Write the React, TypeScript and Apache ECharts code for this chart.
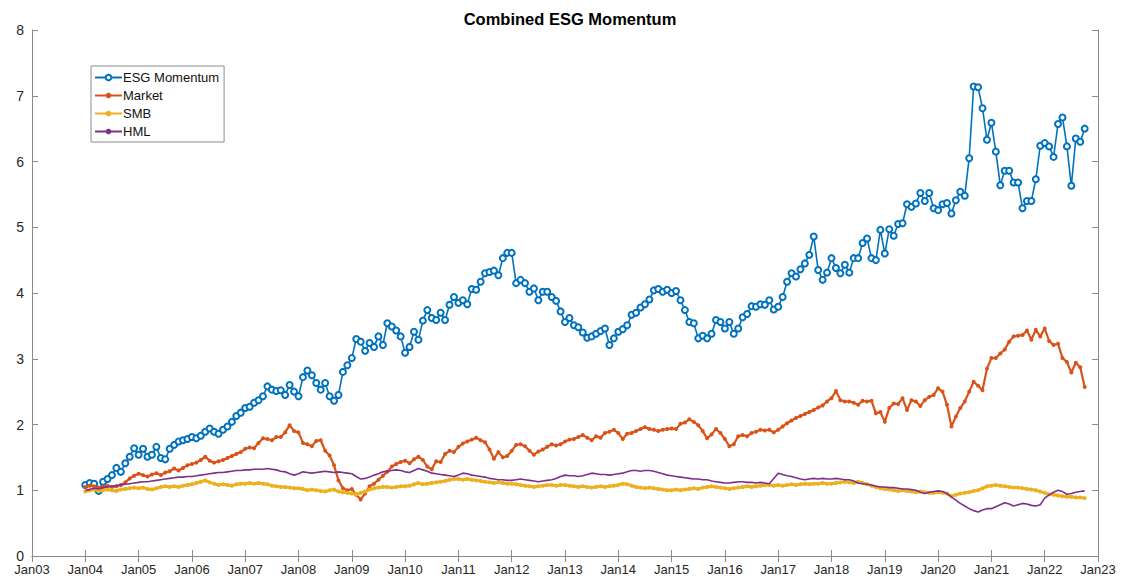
import React, { useEffect, useRef } from "react";
import * as echarts from "echarts";

// Monthly observations, Jan 2004 .. Oct 2022
const START_YEAR = 2004;
const X_MIN = 2003;
const X_MAX = 2023;
const Y_MIN = 0;
const Y_MAX = 8;

const seriesNames = ["ESG Momentum", "Market", "SMB", "HML"];

const esgMomentum = [
  1.08, 1.11, 1.10, 0.99, 1.13, 1.17, 1.23, 1.34, 1.28, 1.41, 1.51, 1.64,
  1.54, 1.63, 1.51, 1.54, 1.66, 1.49, 1.47, 1.63, 1.69, 1.74, 1.76, 1.78,
  1.81, 1.79, 1.83, 1.89, 1.94, 1.89, 1.86, 1.92, 1.97, 2.04, 2.13, 2.18,
  2.25, 2.27, 2.33, 2.37, 2.43, 2.58, 2.53, 2.51, 2.52, 2.45, 2.60, 2.50,
  2.43, 2.72, 2.82, 2.75, 2.63, 2.53, 2.63, 2.43, 2.36, 2.45, 2.80, 2.90,
  3.01, 3.30, 3.26, 3.12, 3.24, 3.18, 3.34, 3.21, 3.54, 3.49, 3.43, 3.34,
  3.09, 3.18, 3.41, 3.29, 3.58, 3.74, 3.62, 3.59, 3.70, 3.59, 3.82, 3.94,
  3.85, 3.89, 3.83, 4.06, 4.05, 4.17, 4.30, 4.32, 4.34, 4.27, 4.53, 4.61,
  4.61, 4.15, 4.20, 4.15, 4.02, 4.07, 3.89, 4.02, 4.02, 3.94, 3.88, 3.72,
  3.56, 3.62, 3.51, 3.48, 3.40, 3.32, 3.34, 3.38, 3.42, 3.46, 3.21, 3.31,
  3.41, 3.45, 3.51, 3.67, 3.70, 3.78, 3.83, 3.90, 4.04, 4.06, 4.02, 4.05,
  4.00, 4.03, 3.89, 3.74, 3.56, 3.54, 3.31, 3.35, 3.31, 3.38, 3.59, 3.56,
  3.46, 3.56, 3.38, 3.46, 3.63, 3.68, 3.80, 3.79, 3.83, 3.82, 3.89, 3.75,
  3.79, 3.94, 4.17, 4.30, 4.25, 4.36, 4.45, 4.58, 4.86, 4.35, 4.20, 4.31,
  4.53, 4.38, 4.30, 4.43, 4.31, 4.53, 4.53, 4.76, 4.83, 4.53, 4.50, 4.96,
  4.60, 4.97, 4.87, 5.05, 5.06, 5.35, 5.31, 5.36, 5.52, 5.40, 5.52, 5.29,
  5.26, 5.35, 5.37, 5.21, 5.41, 5.54, 5.48, 6.05, 7.14, 7.13, 6.81, 6.33,
  6.59, 6.15, 5.64, 5.86, 5.86, 5.68, 5.68, 5.29, 5.40, 5.40, 5.73, 6.24,
  6.28, 6.23, 6.07, 6.57, 6.67, 6.23, 5.63, 6.35, 6.30, 6.50,
];

const market = [
  1.05, 1.07, 1.06, 1.04, 1.05, 1.07, 1.05, 1.06, 1.08, 1.12, 1.18, 1.22,
  1.25, 1.23, 1.21, 1.24, 1.26, 1.23, 1.27, 1.29, 1.33, 1.30, 1.34, 1.38,
  1.40, 1.42, 1.46, 1.51, 1.45, 1.42, 1.44, 1.46, 1.49, 1.52, 1.55, 1.58,
  1.63, 1.65, 1.64, 1.72, 1.79, 1.78, 1.76, 1.81, 1.81, 1.88, 1.99, 1.90,
  1.88, 1.72, 1.70, 1.67, 1.75, 1.76, 1.60, 1.53, 1.38, 1.15, 1.03, 1.00,
  1.02, 0.93, 0.86, 0.95, 1.06, 1.10, 1.16, 1.22, 1.28, 1.36, 1.40, 1.43,
  1.45, 1.41, 1.47, 1.51, 1.46, 1.36, 1.32, 1.44, 1.43, 1.55, 1.60, 1.58,
  1.66, 1.71, 1.74, 1.77, 1.80, 1.76, 1.73, 1.62, 1.48, 1.58, 1.50, 1.52,
  1.60, 1.69, 1.70, 1.67, 1.60, 1.54, 1.59, 1.62, 1.66, 1.70, 1.68, 1.70,
  1.74, 1.77, 1.78, 1.81, 1.84, 1.80, 1.76, 1.82, 1.80, 1.87, 1.89, 1.92,
  1.87, 1.78, 1.86, 1.87, 1.90, 1.93, 1.96, 1.93, 1.92, 1.90, 1.92, 1.93,
  1.94, 1.93, 2.01, 2.03, 2.08, 2.04, 1.99, 1.90, 1.79, 1.85, 1.93, 1.87,
  1.78, 1.67, 1.70, 1.82, 1.84, 1.82, 1.87, 1.89, 1.92, 1.91, 1.92, 1.88,
  1.92, 1.97, 2.02, 2.06, 2.10, 2.13, 2.16, 2.19, 2.22, 2.26, 2.29, 2.35,
  2.40, 2.51, 2.37, 2.35, 2.35, 2.33, 2.30, 2.36, 2.35, 2.36, 2.17, 2.19,
  2.04, 2.25, 2.32, 2.31, 2.40, 2.22, 2.37, 2.35, 2.28, 2.37, 2.42, 2.45,
  2.55, 2.50, 2.30, 1.97, 2.12, 2.25, 2.35, 2.50, 2.65, 2.59, 2.52, 2.85,
  3.01, 3.01, 3.08, 3.14, 3.26, 3.34, 3.35, 3.36, 3.43, 3.29, 3.44, 3.34,
  3.46, 3.27, 3.21, 3.23, 3.01, 2.95, 2.79, 2.94, 2.87, 2.57,
];

const smb = [
  0.98, 1.00, 1.01, 0.99, 1.00, 1.01, 1.00, 0.99, 1.01, 1.02, 1.03, 1.04,
  1.03, 1.04, 1.02, 1.01, 1.03, 1.05, 1.06, 1.05, 1.06, 1.05, 1.07, 1.08,
  1.09, 1.11, 1.13, 1.15, 1.12, 1.10, 1.08, 1.09, 1.08, 1.07, 1.09, 1.10,
  1.10, 1.11, 1.10, 1.11, 1.10, 1.09, 1.07, 1.06, 1.05, 1.05, 1.04, 1.03,
  1.03, 1.02, 1.00, 1.01, 1.00, 0.99, 0.98, 1.00, 1.01, 0.98, 0.97, 0.96,
  0.95, 0.94, 0.96, 0.98, 1.01, 1.03, 1.04, 1.05, 1.05, 1.04, 1.05, 1.06,
  1.06, 1.07, 1.09, 1.11, 1.09, 1.10, 1.11, 1.12, 1.13, 1.14, 1.16, 1.17,
  1.17, 1.16, 1.17, 1.16, 1.15, 1.14, 1.13, 1.12, 1.11, 1.12, 1.11, 1.10,
  1.10, 1.09, 1.08, 1.07, 1.06, 1.05, 1.06, 1.07, 1.08, 1.08, 1.07, 1.08,
  1.08, 1.07, 1.06, 1.05, 1.06, 1.05, 1.04, 1.05, 1.06, 1.05, 1.06, 1.07,
  1.08, 1.10, 1.09, 1.07, 1.05, 1.04, 1.03, 1.04, 1.03, 1.02, 1.01, 1.00,
  1.00, 1.01, 1.00, 1.01, 1.02, 1.03, 1.02, 1.04, 1.05, 1.06, 1.05, 1.04,
  1.03, 1.02, 1.03, 1.04, 1.05, 1.06, 1.05, 1.06, 1.07, 1.08, 1.08, 1.07,
  1.08, 1.07, 1.08, 1.09, 1.08, 1.09, 1.10, 1.09, 1.10, 1.10, 1.11, 1.10,
  1.10, 1.11, 1.12, 1.13, 1.12, 1.11, 1.13, 1.11, 1.09, 1.07, 1.05, 1.03,
  1.02, 1.01, 1.00, 0.99, 1.00, 0.99, 0.98, 0.97, 0.98, 0.97, 0.96, 0.96,
  0.97, 0.96, 0.95, 0.91, 0.93, 0.95, 0.96, 0.97, 0.99, 1.00, 1.03, 1.06,
  1.07, 1.08, 1.07, 1.06, 1.05, 1.04, 1.04, 1.03, 1.02, 1.01, 1.00, 0.98,
  0.96, 0.94, 0.93, 0.92, 0.91, 0.90, 0.90, 0.89, 0.89, 0.88,
];

const hml = [
  1.00, 1.01, 1.03, 1.02, 1.04, 1.05, 1.06, 1.07, 1.08, 1.09, 1.10, 1.11,
  1.12, 1.13, 1.13, 1.14, 1.15, 1.16, 1.17, 1.18, 1.19, 1.20, 1.20, 1.21,
  1.21, 1.22, 1.23, 1.24, 1.25, 1.26, 1.27, 1.27, 1.28, 1.29, 1.30, 1.30,
  1.31, 1.31, 1.32, 1.32, 1.32, 1.33, 1.32, 1.31, 1.29, 1.28, 1.25, 1.23,
  1.25, 1.28, 1.27, 1.26, 1.27, 1.28, 1.29, 1.28, 1.27, 1.28, 1.27, 1.26,
  1.25, 1.21, 1.17, 1.18, 1.20, 1.23, 1.25, 1.28, 1.29, 1.30, 1.31, 1.30,
  1.28, 1.27, 1.30, 1.33, 1.31, 1.29, 1.26, 1.25, 1.24, 1.23, 1.22, 1.21,
  1.23, 1.26, 1.25, 1.23, 1.22, 1.21, 1.20, 1.18, 1.17, 1.16, 1.16, 1.15,
  1.15, 1.16, 1.17, 1.16, 1.15, 1.14, 1.13, 1.14, 1.15, 1.16, 1.18, 1.21,
  1.23, 1.22, 1.22, 1.21, 1.22, 1.24, 1.26, 1.25, 1.24, 1.24, 1.23, 1.24,
  1.25, 1.26, 1.28, 1.30, 1.30, 1.29, 1.30, 1.30, 1.29, 1.27, 1.25, 1.23,
  1.22, 1.21, 1.20, 1.19, 1.18, 1.17, 1.17, 1.16, 1.16, 1.14, 1.13, 1.12,
  1.11, 1.11, 1.12, 1.13, 1.13, 1.12, 1.12, 1.11, 1.12, 1.11, 1.10, 1.18,
  1.26, 1.24, 1.22, 1.21, 1.19, 1.17, 1.16, 1.17, 1.18, 1.17, 1.18, 1.17,
  1.17, 1.18, 1.17, 1.16, 1.16, 1.14, 1.11, 1.10, 1.09, 1.08, 1.06, 1.05,
  1.05, 1.04, 1.04, 1.03, 1.02, 1.02, 1.01, 1.00, 0.97, 0.95, 0.97, 0.98,
  0.99, 0.98, 0.95, 0.90, 0.85, 0.80, 0.76, 0.72, 0.69, 0.67, 0.70, 0.72,
  0.72, 0.75, 0.78, 0.81, 0.79, 0.76, 0.78, 0.80, 0.79, 0.77, 0.76, 0.78,
  0.88, 0.93, 0.97, 1.00, 0.98, 0.94, 0.95, 0.97, 0.98, 0.99,
];

const colors = ["#0072BD", "#D95319", "#EDB120", "#7E2F8E"];

const toPoints = (vals: number[]) =>
  vals.map((v, i) => [START_YEAR + i / 12, v]);

const fmtX = (v: number) =>
  "Jan" + String(Math.round(v) % 100).padStart(2, "0");

const FONT = "'Liberation Sans', Arial, Helvetica, sans-serif";
const AXIS_COLOR = "#8a8a8a";
const LABEL_COLOR = "#262626";

export default function App() {
  const ref = useRef<HTMLDivElement>(null);

  useEffect(() => {
    if (!ref.current) return;
    const chart = echarts.init(ref.current, undefined, { renderer: "svg" });

    const axisBase = {
      axisLine: { show: true, lineStyle: { color: AXIS_COLOR, width: 1 } },
      axisTick: { show: true, inside: true, length: 6, lineStyle: { color: AXIS_COLOR } },
      splitLine: { show: false },
    };

    chart.setOption({
      animation: false,
      backgroundColor: "#ffffff",
      title: {
        text: "Combined ESG Momentum",
        left: 565,
        top: 5,
        textAlign: "center",
        textStyle: { fontFamily: FONT, fontWeight: "bold", fontSize: 16.5, color: "#000" },
      },
      legend: {
        data: seriesNames,
        orient: "vertical",
        left: 91,
        top: 66,
        padding: [4, 5, 3, 3],
        itemGap: 3,
        itemWidth: 27,
        itemHeight: 7,
        borderColor: "#8c8c8c",
        borderWidth: 1,
        backgroundColor: "#ffffff",
        textStyle: {
          fontFamily: FONT,
          fontSize: 13,
          color: "#111",
          padding: [0, 0, 0, -4],
          lineHeight: 15,
        },
      },
      grid: { left: 32, right: 23, top: 30, bottom: 25, containLabel: false },
      xAxis: [
        {
          type: "value",
          min: X_MIN,
          max: X_MAX,
          interval: 1,
          position: "bottom",
          ...axisBase,
          axisLabel: {
            formatter: fmtX,
            fontFamily: FONT,
            fontSize: 13,
            color: LABEL_COLOR,
            margin: 7,
          },
        },
        {
          type: "value",
          min: X_MIN,
          max: X_MAX,
          interval: 1,
          position: "top",
          ...axisBase,
          axisLabel: { show: false },
        },
      ],
      yAxis: [
        {
          type: "value",
          min: Y_MIN,
          max: Y_MAX,
          interval: 1,
          position: "left",
          ...axisBase,
          axisLabel: { fontFamily: FONT, fontSize: 14, color: LABEL_COLOR, margin: 8 },
        },
        {
          type: "value",
          min: Y_MIN,
          max: Y_MAX,
          interval: 1,
          position: "right",
          ...axisBase,
          axisLabel: { show: false },
        },
      ],
      series: [
        {
          name: seriesNames[0],
          type: "line",
          data: toPoints(esgMomentum),
          symbol: "emptyCircle",
          symbolSize: 6,
          showAllSymbol: true,
          lineStyle: { color: colors[0], width: 1.6 },
          itemStyle: { color: colors[0], borderColor: colors[0], borderWidth: 1.3 },
          z: 2,
        },
        {
          name: seriesNames[1],
          type: "line",
          data: toPoints(market),
          symbol: "circle",
          symbolSize: 4,
          showAllSymbol: true,
          lineStyle: { color: colors[1], width: 2.2 },
          itemStyle: { color: colors[1] },
          z: 3,
        },
        {
          name: seriesNames[2],
          type: "line",
          data: toPoints(smb),
          symbol: "circle",
          symbolSize: 4,
          showAllSymbol: true,
          lineStyle: { color: colors[2], width: 3 },
          itemStyle: { color: colors[2] },
          z: 4,
        },
        {
          name: seriesNames[3],
          type: "line",
          data: toPoints(hml),
          symbol: "none",
          lineStyle: { color: colors[3], width: 1.6 },
          itemStyle: { color: colors[3] },
          z: 5,
        },
      ],
    });

    return () => chart.dispose();
  }, []);

  return (
    <div
      ref={ref}
      style={{ position: "fixed", left: 0, top: 0, width: 1121, height: 581, background: "#fff" }}
    />
  );
}
